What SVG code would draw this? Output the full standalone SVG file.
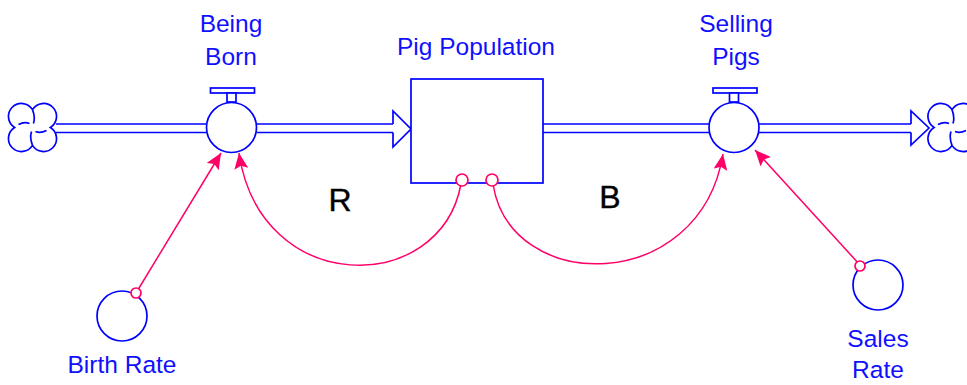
<svg xmlns="http://www.w3.org/2000/svg" width="967" height="385" viewBox="0 0 967 385">
<style>
.flow{fill:none;stroke:#0000ff;stroke-width:1.7}
.aux{fill:#fff;stroke:#0000ff;stroke-width:1.7}
.lbl{font-family:"Liberation Sans",Arial,sans-serif;font-size:24.5px;fill:#1010ff;text-anchor:middle}
.loop{font-family:"Liberation Sans",Arial,sans-serif;font-size:32px;fill:#000;text-anchor:middle;stroke:#000;stroke-width:0.4}
.link{fill:none;stroke:#ff0066;stroke-width:1.5}
.org{fill:#fff;stroke:#ff0066;stroke-width:1.7}
</style>
<defs>
<marker id="ah" viewBox="0 0 16 14" refX="16" refY="7" markerWidth="16" markerHeight="14" markerUnits="userSpaceOnUse" orient="auto">
<path d="M0,0 L16,7 L0,14 L3,7 Z" fill="#ff0066"/>
</marker>
<g id="cloud">
<path class="flow" d="M0,-17.9 A13,13 0 1 1 17.9,0 A13,13 0 1 1 0,17.9 A13,13 0 1 1 -17.9,0 A13,13 0 1 1 0,-17.9 Z M-14,-3 Q-8,-6 -3,-4 M0,-17.9 Q3,-10 1,-4 M14,3 Q8,6 3,4 M0,17.9 Q-3,10 -1,4"/>
</g>
</defs>
<rect width="967" height="385" fill="#fff"/>

<g id="source-cloud"><use href="#cloud" x="32.5" y="127.5"/></g>
<g id="sink-cloud"><use href="#cloud" x="952" y="127.5"/></g>

<g id="flows">
<path class="flow" d="M56,124 L206,124 M56,132.5 L206,132.5 M257,124 L393,124 M257,132.5 L393,132.5"/>
<path class="flow" d="M393,124 L393,111 L411,129 L393,147 L393,132.5"/>
<path class="flow" d="M543,124 L709,124 M543,132.5 L709,132.5 M759,124 L911,124 M759,132.5 L911,132.5"/>
<path class="flow" d="M911,124 L911,111 L929,128 L911,145 L911,132.5"/>
</g>

<g id="being-born">
<rect class="aux" x="210.5" y="88" width="44" height="5"/>
<rect class="aux" x="227" y="93" width="9" height="9"/>
<circle class="aux" cx="231.5" cy="127.5" r="25"/>
<text class="lbl" x="231" y="32">Being</text>
<text class="lbl" x="231" y="65">Born</text>
</g>

<g id="pig-population">
<rect class="aux" x="411" y="79" width="132" height="104"/>
<text class="lbl" x="476" y="55">Pig Population</text>
</g>

<g id="selling-pigs">
<rect class="aux" x="713" y="88" width="44" height="5"/>
<rect class="aux" x="729.5" y="93" width="9" height="9"/>
<circle class="aux" cx="734" cy="127.5" r="25"/>
<text class="lbl" x="736" y="32">Selling</text>
<text class="lbl" x="736" y="65">Pigs</text>
</g>

<g id="birth-rate">
<circle class="aux" cx="122" cy="316" r="25"/>
<text class="lbl" x="122" y="373">Birth Rate</text>
</g>

<g id="sales-rate">
<circle class="aux" cx="878" cy="285" r="25"/>
<text class="lbl" x="878" y="347">Sales</text>
<text class="lbl" x="878" y="378">Rate</text>
</g>

<g id="connectors">
<path class="link" d="M136,293 L221,153" marker-end="url(#ah)"/>
<path class="link" d="M860,265 L755,150" marker-end="url(#ah)"/>
<path class="link" d="M461,184 C440,297 260,297 239,153" marker-end="url(#ah)"/>
<path class="link" d="M493,184 C510,295 700,295 723,154" marker-end="url(#ah)"/>
<circle class="org" cx="136" cy="293" r="5"/>
<circle class="org" cx="860" cy="266" r="5"/>
<circle class="org" cx="462" cy="180" r="6"/>
<circle class="org" cx="492" cy="180" r="6"/>
</g>

<g id="loop-labels">
<text class="loop" x="340" y="211">R</text>
<text class="loop" x="610" y="208">B</text>
</g>
</svg>
